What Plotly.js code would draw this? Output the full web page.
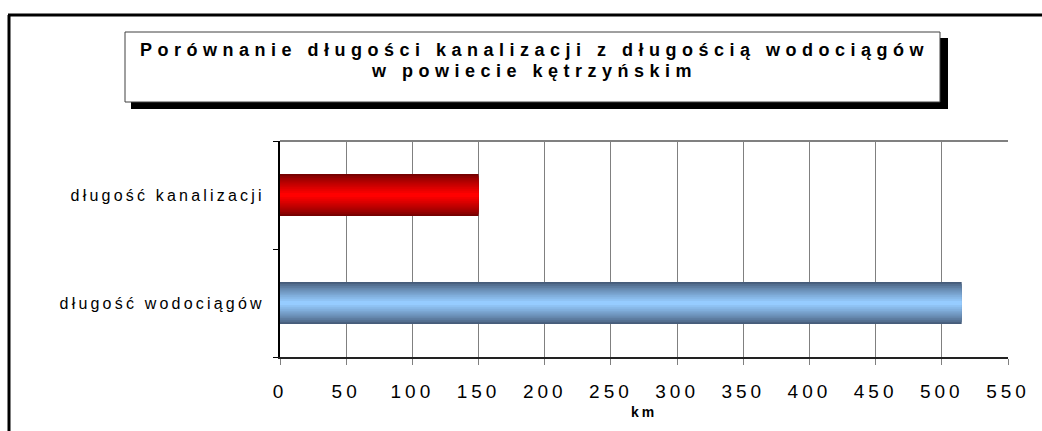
<!DOCTYPE html>
<html>
<head>
<meta charset="utf-8">
<script src="https://cdn.plot.ly/plotly-3.0.1.min.js"></script>
<style>
  html, body { margin: 0; padding: 0; background: #fff; }
  #chart { width: 1042px; height: 431px; }
  .xtick text { letter-spacing: 4px; }
  .ytick text { letter-spacing: 3.2px; }
  .annotation-text { letter-spacing: 5.5px; }
  .g-xtitle text { letter-spacing: 3px; }
</style>
</head>
<body>
<div id="chart"></div>
<script>
// ---- data ----
const categories = ["długość wodociągów", "długość kanalizacji"];
const lengthsKm = [515, 150];
const xTickValues = [0, 50, 100, 150, 200, 250, 300, 350, 400, 450, 500, 550];
const titleLine1 = "Porównanie długości kanalizacji z długością wodociągów";
const titleLine2 = "w powiecie kętrzyńskim";
const xAxisTitle = "km";

// ---- style: banded gradient bars built from overlaid layers ----
const edgeColors = [[70, 92, 122], [118, 0, 0]];     // per category (blue, red)
const centerColors = [[150, 204, 255], [255, 0, 0]];
const layers = 11;
const fullWidth = 0.39;

function mix(a, b, t) {
  return 'rgb(' + a.map((v, i) => Math.round(v + (b[i] - v) * t)).join(',') + ')';
}

const traces = [];
for (let i = 0; i < layers; i++) {
  const t = i / (layers - 1);
  const w = fullWidth * (1 - i / layers);
  traces.push({
    type: 'bar',
    orientation: 'h',
    y: categories,
    x: lengthsKm,
    width: categories.map(() => w),
    marker: {
      color: categories.map((c, k) => mix(edgeColors[k], centerColors[k], Math.pow(t, 0.8))),
      line: { width: 0 }
    },
    hoverinfo: 'skip',
    showlegend: false
  });
}

const L = 280, R = 1008, T = 141, B = 357;
const W = R - L, H = B - T;
const px = x => (x - L) / W;
const py = y => (B - y) / H;

const layout = {
  width: 1042,
  height: 431,
  margin: { l: L, r: 1042 - R, t: T, b: 431 - B, pad: 0 },
  paper_bgcolor: '#ffffff',
  plot_bgcolor: '#ffffff',
  barmode: 'overlay',
  font: { family: '"Liberation Sans", Arial, sans-serif', color: '#000000' },
  xaxis: {
    range: [0, 550],
    tickvals: xTickValues,
    ticktext: xTickValues.map(String),
    showgrid: true,
    gridcolor: '#808080',
    gridwidth: 1,
    zeroline: false,
    showline: true,
    linecolor: '#222222',
    linewidth: 2,
    ticks: 'outside',
    ticklen: 6,
    tickcolor: '#808080',
    tickwidth: 1,
    ticklabelstandoff: 10,
    tickfont: { size: 19, color: '#000000' },
    title: { text: '<b>' + xAxisTitle + '</b>', font: { size: 14, color: '#000000' }, standoff: 6 },
    fixedrange: true
  },
  yaxis: {
    type: 'category',
    range: [-0.5, 1.5],
    showgrid: false,
    zeroline: false,
    showline: true,
    linecolor: '#000000',
    linewidth: 2,
    ticks: 'outside',
    tickson: 'boundaries',
    ticklen: 5,
    tickcolor: '#000000',
    tickwidth: 1,
    ticklabelstandoff: 10,
    tickfont: { size: 16, color: '#000000' },
    fixedrange: true
  },
  shapes: [
    // outer frame (left and top)
    { type: 'line', xref: 'paper', yref: 'paper', x0: px(9), x1: px(9), y0: py(15), y1: py(440), line: { color: '#000', width: 3 } },
    { type: 'line', xref: 'paper', yref: 'paper', x0: px(8), x1: px(1050), y0: py(15), y1: py(15), line: { color: '#000', width: 3 } },
    // plot area top border
    { type: 'line', xref: 'paper', yref: 'paper', x0: 0, x1: 1, y0: 1, y1: 1, line: { color: '#808080', width: 2 } },
    // title shadow and box
    { type: 'rect', xref: 'paper', yref: 'paper', x0: px(131), x1: px(948), y0: py(109), y1: py(38), fillcolor: '#000', line: { width: 0 } },
    { type: 'rect', xref: 'paper', yref: 'paper', x0: px(125), x1: px(940), y0: py(102), y1: py(32), fillcolor: '#fff', line: { color: '#404040', width: 1 } }
  ],
  annotations: [
    { xref: 'paper', yref: 'paper', x: px(534), y: py(50), xanchor: 'center', yanchor: 'middle', showarrow: false,
      text: '<b>' + titleLine1 + '</b>', font: { size: 18, color: '#000' } },
    { xref: 'paper', yref: 'paper', x: px(534), y: py(71), xanchor: 'center', yanchor: 'middle', showarrow: false,
      text: '<b>' + titleLine2 + '</b>', font: { size: 18, color: '#000' } }
  ]
};

Plotly.newPlot('chart', traces, layout, { staticPlot: true, displayModeBar: false });
</script>
</body>
</html>
